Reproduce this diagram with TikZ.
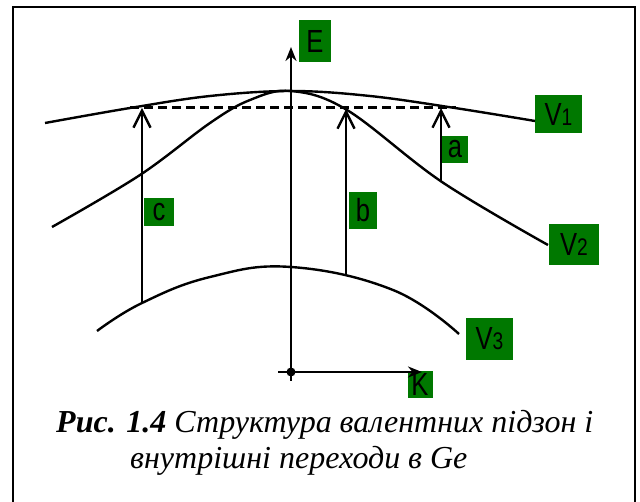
\documentclass[tikz,border=0pt]{standalone}
\usepackage{fontspec}
\setmainfont{Liberation Serif}
\newfontfamily\lblfont{Liberation Sans}
\usetikzlibrary{arrows.meta}
\definecolor{lblgreen}{RGB}{0,120,0}
\tikzset{
  lbl/.style={fill=lblgreen, inner sep=0pt, text=black,
    font=\lblfont\fontsize{32}{32}\selectfont},
  curve/.style={line width=2.4pt, black},
  trans/.style={line width=2.4pt, -{Straight Barb[length=17pt,width=17pt,line width=2.4pt]}},
  axis/.style={line width=2.4pt, -{Stealth[length=14pt,width=11pt]}},
}
\newcommand{\sx}[1]{\scalebox{0.8}[1]{#1}}
\newcommand{\vsub}[1]{\sx{V\fontsize{24}{24}\selectfont#1}}
\begin{document}
\begin{tikzpicture}[x=1pt,y=-1pt]
\useasboundingbox (0,0) rectangle (640,502);
\begin{scope}
\clip (0,0) rectangle (640,502);
\draw[line width=2.8pt] (13,7) rectangle (635,540);
\end{scope}

% labels
\node[lbl, minimum width=32pt, minimum height=42pt] (E) at (315,41) {\sx{E}};
\node[lbl, minimum width=47pt, minimum height=38pt] (V1) at (558.5,114) {\vsub{1}};
\node[lbl, minimum width=50pt, minimum height=41pt] (V2) at (574,244.5) {\vsub{2}};
\node[lbl, minimum width=47pt, minimum height=42pt] (V3) at (489.5,339) {\vsub{3}};
\node[lbl, minimum width=26pt, minimum height=27pt] (la) at (455,149.5) {\sx{a}};
\node[lbl, minimum width=28pt, minimum height=37pt] (lb) at (363,210.5) {\sx{b}};
\node[lbl, minimum width=30pt, minimum height=28pt] (lc) at (159,212) {\sx{c}};
\node[lbl, minimum width=25pt, minimum height=27pt] (K) at (420,384.5) {\sx{K}};

% axes
\coordinate (O) at (291,372);
\coordinate (Etip) at (291,47);
\coordinate (Ebot) at (291,381);
\coordinate (Ktip) at (422,372);
\coordinate (Kleft) at (278,372);
\draw[axis] (Ebot) -- (Etip);
\draw[axis] (Kleft) -- (Ktip);
\fill (O) circle (4.5pt);

% bands
\draw[curve] plot[smooth, tension=0.6] coordinates
  {(45,123) (130,108) (210,96) (291,91) (370,96) (455,108) (535,121)};
\draw[curve] plot[smooth, tension=0.6] coordinates
  {(52,227) (140,175) (210,123) (250,100) (291,91) (347,110) (442,182) (548,245)};
\draw[curve] plot[smooth, tension=0.7] coordinates
  {(97,331) (142,303) (210,277) (291,267) (393,290) (459,334)};

% dashed level
\coordinate (dl) at (130,108);
\coordinate (dr) at (456,108);
\draw[line width=3pt, dash pattern=on 9pt off 5pt] (dl) -- (dr);

% transitions
\coordinate (c0) at (142,303); \coordinate (c1) at (142,108);
\coordinate (b0) at (346,276); \coordinate (b1) at (346,109);
\coordinate (a0) at (441,182); \coordinate (a1) at (441,108);
\draw[trans] (c0) -- (c1);
\draw[trans] (b0) -- (b1);
\draw[trans] (a0) -- (a1);

% caption
\node[anchor=base west, inner sep=0pt, font=\fontsize{32}{32}\selectfont] (cap1) at (56,432)
  {\textbf{\textit{Рис. 1.4}} \textit{Структура валентних підзон і}};
\node[anchor=base west, inner sep=0pt, font=\fontsize{32}{32}\selectfont] (cap2) at (130,468)
  {\textit{внутрішні переходи в Ge}};
\end{tikzpicture}
\end{document}
